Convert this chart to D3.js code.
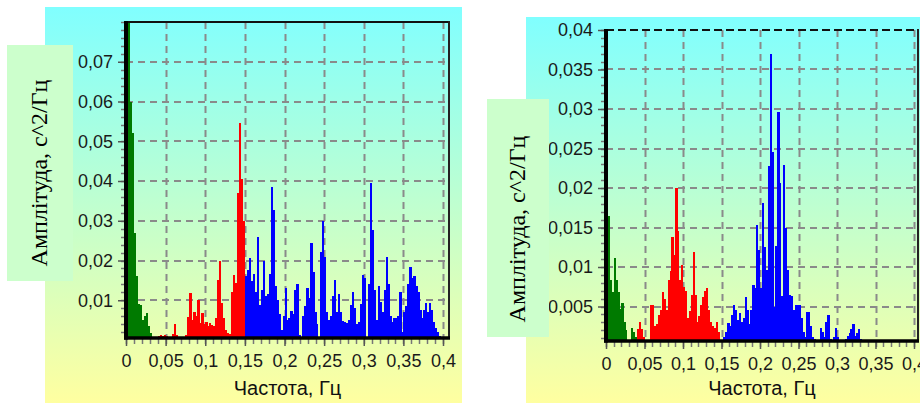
<!DOCTYPE html>
<html>
<head>
<meta charset="utf-8">
<script src="https://cdn.jsdelivr.net/npm/d3@7"></script>
<style>
  html, body { margin: 0; padding: 0; background: #ffffff; }
  svg { display: block; }
</style>
</head>
<body>
<svg id="chart" width="920" height="403"></svg>
<script>
// ---- spectrum data (bin width in Hz) ----
const binStep = 0.0025;

const freqTicks = [0, 0.05, 0.1, 0.15, 0.2, 0.25, 0.3, 0.35, 0.4];
const freqTickLabels = ["0", "0,05", "0,1", "0,15", "0,2", "0,25", "0,3", "0,35", "0,4"];

const leftAmpTicks = [0.01, 0.02, 0.03, 0.04, 0.05, 0.06, 0.07];
const leftAmpTickLabels = ["0,01", "0,02", "0,03", "0,04", "0,05", "0,06", "0,07"];

const rightAmpTicks = [0.005, 0.01, 0.015, 0.02, 0.025, 0.03, 0.035, 0.04];
const rightAmpTickLabels = ["0,005", "0,01", "0,015", "0,02", "0,025", "0,03", "0,035", "0,04"];

// left spectrum: VLF bins 0..13, LF bins 14..59, HF bins 60..159
const leftVLF = [0.08, 0.08, 0.06, 0.052, 0.027, 0.016, 0.009, 0.0087, 0.005, 0.006,
                 0.0067, 0.0034, 0.0017, 0.0008];
const leftLF = [0.0003, 0.0008, 0.001, 0.0012, 0.001, 0.0012, 0.0009, 0.0005, 0.0006, 0.0015,
                0.004, 0.0012, 0.0005, 0.0003, 0.0006, 0.0002, 0.0012, 0.0059, 0.0119, 0.005,
                0.0071, 0.006, 0.010, 0.0042, 0.0067, 0.004, 0.0046, 0.0035, 0.0042, 0.0038,
                0.0035, 0.0055, 0.0151, 0.020, 0.0092, 0.0055, 0.0025, 0.0018, 0.0015, 0.012,
                0.0164, 0.0143, 0.037, 0.0547, 0.0405, 0.030];
const leftHF = [0.016, 0.0175, 0.0206, 0.0148, 0.0165, 0.012, 0.026, 0.0089, 0.0125, 0.0198,
                0.011, 0.0115, 0.0165, 0.0386, 0.0327, 0.0137, 0.010, 0.0065, 0.0025, 0.006,
                0.013, 0.005, 0.0055, 0.0074, 0.0065, 0.0125, 0.014, 0.0012, 0.0008, 0.006,
                0.0085, 0.013, 0.0105, 0.0243, 0.017, 0.007, 0.004, 0.0008, 0.0222, 0.030,
                0.021, 0.007, 0.005, 0.006, 0.011, 0.015, 0.007, 0.0115, 0.007, 0.0048,
                0.0045, 0.0042, 0.005, 0.0088, 0.012, 0.008, 0.004, 0.0045, 0.009, 0.0163,
                0.0155, 0.0008, 0.014, 0.0394, 0.0277, 0.0125, 0.005, 0.0137, 0.0095, 0.007,
                0.0125, 0.021, 0.014, 0.006, 0.0045, 0.0055, 0.0055, 0.006, 0.012, 0.002,
                0.007, 0.0085, 0.014, 0.0183, 0.0155, 0.016, 0.0135, 0.012, 0.0075, 0.0055,
                0.0075, 0.0092, 0.007, 0.0092, 0.0075, 0.0045, 0.003, 0.002, 0.001, 0.0008];

// right spectrum: VLF bins 0..15, LF bins 16..59, HF bins 60..159
const rightVLF = [0.025, 0.0164, 0.0083, 0.0068, 0.0111, 0.0083, 0.0068, 0.0047, 0.0055, 0.003,
                  0.002, 0.0004, 0.0002, 0.0023, 0.0018, 0.0012];
const rightLF = [0.0022, 0.003, 0.0022, 0.0012, 0.0006, 0.0001, 0.0002, 0.0052, 0.0052, 0.0025,
                 0.0028, 0.0039, 0.0045, 0.0068, 0.006, 0.0045, 0.0083, 0.0095, 0.0138, 0.0115,
                 0.020, 0.0146, 0.0083, 0.0103, 0.0075, 0.007, 0.0035, 0.0044, 0.0065, 0.0119,
                 0.0065, 0.0031, 0.0038, 0.0052, 0.0062, 0.0069, 0.0073, 0.0045, 0.003, 0.0025,
                 0.0023, 0.003, 0.0018, 0.0008];
const rightHF = [0.0008, 0.0012, 0.0018, 0.0029, 0.0025, 0.0039, 0.0052, 0.0045, 0.0033, 0.0042,
                 0.003, 0.0035, 0.0062, 0.0045, 0.0028, 0.0045, 0.0077, 0.0073, 0.0153, 0.0122,
                 0.0073, 0.0181, 0.0125, 0.0096, 0.0228, 0.037, 0.0246, 0.005, 0.0126, 0.0296,
                 0.0206, 0.0063, 0.0229, 0.0149, 0.0096, 0.0065, 0.0063, 0.0045, 0.0052, 0.0052,
                 0.0052, 0.0035, 0.0018, 0.0012, 0.0043, 0.0043, 0.0025, 0.0012, 0.0009, 0.0006,
                 0.0002, 0.0023, 0.0018, 0.0012, 0.0031, 0.0039, 0.0009, 0.0004, 0.0012, 0.0023,
                 0.0012, 0.0006, 0, 0, 0.0009, 0.0013, 0.0016, 0.0022, 0.0028, 0.0013,
                 0.0016, 0.0022, 0.0009, 0, 0, 0, 0, 0, 0, 0,
                 0, 0, 0, 0, 0, 0, 0, 0, 0, 0,
                 0, 0.0004, 0, 0, 0, 0, 0, 0.0004, 0, 0];

const bandColors = { vlf: "#007a00", lf: "#ff0000", hf: "#0000ff" };

const yTitle = "Амплітуда, с^2/Гц";
const xTitle = "Частота, Гц";

// ---- drawing ----
const svg = d3.select("#chart");
const defs = svg.append("defs");
const grad = defs.append("linearGradient")
  .attr("id", "panelBg").attr("x1", 0).attr("y1", 0).attr("x2", 0).attr("y2", 1);
grad.append("stop").attr("offset", "0%").attr("stop-color", "#80ffff");
grad.append("stop").attr("offset", "100%").attr("stop-color", "#ffffa0");

function spectrumBins(vlf, lf, hf) {
  const out = [];
  let k = 0;
  [[vlf, "vlf"], [lf, "lf"], [hf, "hf"]].forEach(([arr, band]) => {
    arr.forEach(v => { out.push({ f: k * binStep, v, band }); k++; });
  });
  return out;
}

function drawPanel(p) {
  const g = svg.append("g");

  g.append("rect")
    .attr("x", p.bg[0]).attr("y", p.bg[1])
    .attr("width", p.bg[2]).attr("height", p.bg[3])
    .attr("fill", "url(#panelBg)");

  const x = d3.scaleLinear().domain([0, 0.4]).range([p.left, p.x04]);
  const y = d3.scaleLinear().domain([0, p.yMax]).range([p.zeroY, p.top]);

  const clipId = "clip" + p.id;
  defs.append("clipPath").attr("id", clipId)
    .append("rect").attr("x", p.left).attr("y", p.top)
    .attr("width", p.right - p.left).attr("height", p.axisY - p.top);

  // dashed grid
  const grid = g.append("g").attr("stroke", "#8a8a8a").attr("stroke-width", 2)
    .attr("stroke-dasharray", "7,5");
  grid.selectAll("line.v").data(freqTicks.filter(d => d > 0)).join("line")
    .attr("x1", d => Math.round(x(d)) + 0.5).attr("x2", d => Math.round(x(d)) + 0.5)
    .attr("y1", p.top).attr("y2", p.axisY);
  grid.selectAll("line.h").data(p.ampTicks).join("line")
    .attr("x1", p.left).attr("x2", p.right)
    .attr("y1", d => Math.round(y(d))).attr("y2", d => Math.round(y(d)));

  // spectrum bars
  const bins = spectrumBins(p.vlf, p.lf, p.hf);
  g.append("g").attr("clip-path", `url(#${clipId})`)
    .selectAll("rect").data(bins.filter(d => d.v > 0)).join("rect")
    .attr("x", d => x(d.f))
    .attr("width", d => x(d.f + binStep) - x(d.f) + 0.3)
    .attr("y", d => y(Math.min(d.v, p.yMax)))
    .attr("height", d => p.zeroY - y(Math.min(d.v, p.yMax)))
    .attr("fill", d => bandColors[d.band])
    .attr("shape-rendering", "crispEdges");

  // frame: top and right borders
  g.append("line").attr("x1", p.left).attr("x2", p.right)
    .attr("y1", p.top).attr("y2", p.top)
    .attr("stroke", "#111").attr("stroke-width", 2)
    .attr("stroke-dasharray", p.dashedTop ? "8,4" : null);
  g.append("line").attr("x1", p.right).attr("x2", p.right)
    .attr("y1", p.top - 1).attr("y2", p.axisY)
    .attr("stroke", "#222").attr("stroke-width", 2);

  // minor ticks
  const minorY = d3.range(p.minorYStep, p.yMax + 1e-9, p.minorYStep);
  g.append("g").selectAll("line").data(minorY).join("line")
    .attr("x1", p.left - 5).attr("x2", p.left)
    .attr("y1", d => Math.round(y(d)) + 0.5).attr("y2", d => Math.round(y(d)) + 0.5)
    .attr("stroke", "#777").attr("stroke-width", 1.5);
  const minorX = d3.range(0, 0.4001, 0.01);
  g.append("g").selectAll("line").data(minorX).join("line")
    .attr("x1", d => Math.round(x(d)) + 0.5).attr("x2", d => Math.round(x(d)) + 0.5)
    .attr("y1", p.axisY).attr("y2", p.axisY + 6)
    .attr("stroke", "#777").attr("stroke-width", 1.5);

  // major ticks + labels
  const yAxis = d3.axisLeft(y).tickValues(p.ampTicks)
    .tickFormat((d, i) => p.ampLabels[i]).tickSize(8).tickPadding(5);
  const ya = g.append("g").attr("transform", `translate(${p.left},0)`).call(yAxis);
  ya.select(".domain").remove();
  ya.selectAll(".tick line").attr("stroke", "#555").attr("stroke-width", 1.5);
  ya.selectAll(".tick text").attr("fill", "#1a1a1a")
    .attr("font-family", "'Liberation Sans', Arial, sans-serif").attr("font-size", 18);

  const xAxis = d3.axisBottom(x).tickValues(freqTicks)
    .tickFormat((d, i) => freqTickLabels[i]).tickSize(8).tickPadding(8);
  const xa = g.append("g").attr("transform", `translate(0,${p.axisY})`).call(xAxis);
  xa.select(".domain").remove();
  xa.selectAll(".tick line").attr("stroke", "#555").attr("stroke-width", 1.5);
  xa.selectAll(".tick text").attr("fill", "#1a1a1a")
    .attr("font-family", "'Liberation Sans', Arial, sans-serif").attr("font-size", 18);

  // thick axis lines
  g.append("line").attr("x1", p.left).attr("x2", p.left)
    .attr("y1", p.top - 1).attr("y2", p.axisY + 1.5)
    .attr("stroke", "#000").attr("stroke-width", 4);
  g.append("line").attr("x1", p.left - 2).attr("x2", p.right + 1)
    .attr("y1", p.axisY).attr("y2", p.axisY)
    .attr("stroke", "#000").attr("stroke-width", 3.5);

  // x title
  g.append("text").attr("x", (p.left + p.right) / 2).attr("y", 395)
    .attr("text-anchor", "middle").attr("fill", "#111")
    .attr("font-family", "'Liberation Sans', Arial, sans-serif").attr("font-size", 20)
    .text(xTitle);

  // y title box with vertical caption
  const b = p.titleBox;
  g.append("rect").attr("x", b[0]).attr("y", b[1]).attr("width", b[2]).attr("height", b[3])
    .attr("fill", "#ccffcc");
  g.append("text")
    .attr("transform", `translate(${p.titleAt[0]},${p.titleAt[1]}) rotate(-90)`)
    .attr("text-anchor", "middle").attr("fill", "#000")
    .attr("font-family", "'Liberation Serif', 'Times New Roman', serif").attr("font-size", 24)
    .text(yTitle);
}

drawPanel({
  id: "L", bg: [45, 7, 417, 396],
  left: 126, x04: 443, right: 449, top: 22, zeroY: 340, axisY: 338, yMax: 0.08,
  ampTicks: leftAmpTicks, ampLabels: leftAmpTickLabels, minorYStep: 0.002,
  vlf: leftVLF, lf: leftLF, hf: leftHF, dashedTop: false,
  titleBox: [7, 45, 66, 236], titleAt: [47, 173]
});

drawPanel({
  id: "R", bg: [526, 17, 394, 386],
  left: 606, x04: 914, right: 918, top: 30, zeroY: 346, axisY: 341, yMax: 0.04,
  ampTicks: rightAmpTicks, ampLabels: rightAmpTickLabels, minorYStep: 0.001,
  vlf: rightVLF, lf: rightLF, hf: rightHF, dashedTop: true,
  titleBox: [487, 99, 62, 238], titleAt: [525, 229]
});
</script>
</body>
</html>
